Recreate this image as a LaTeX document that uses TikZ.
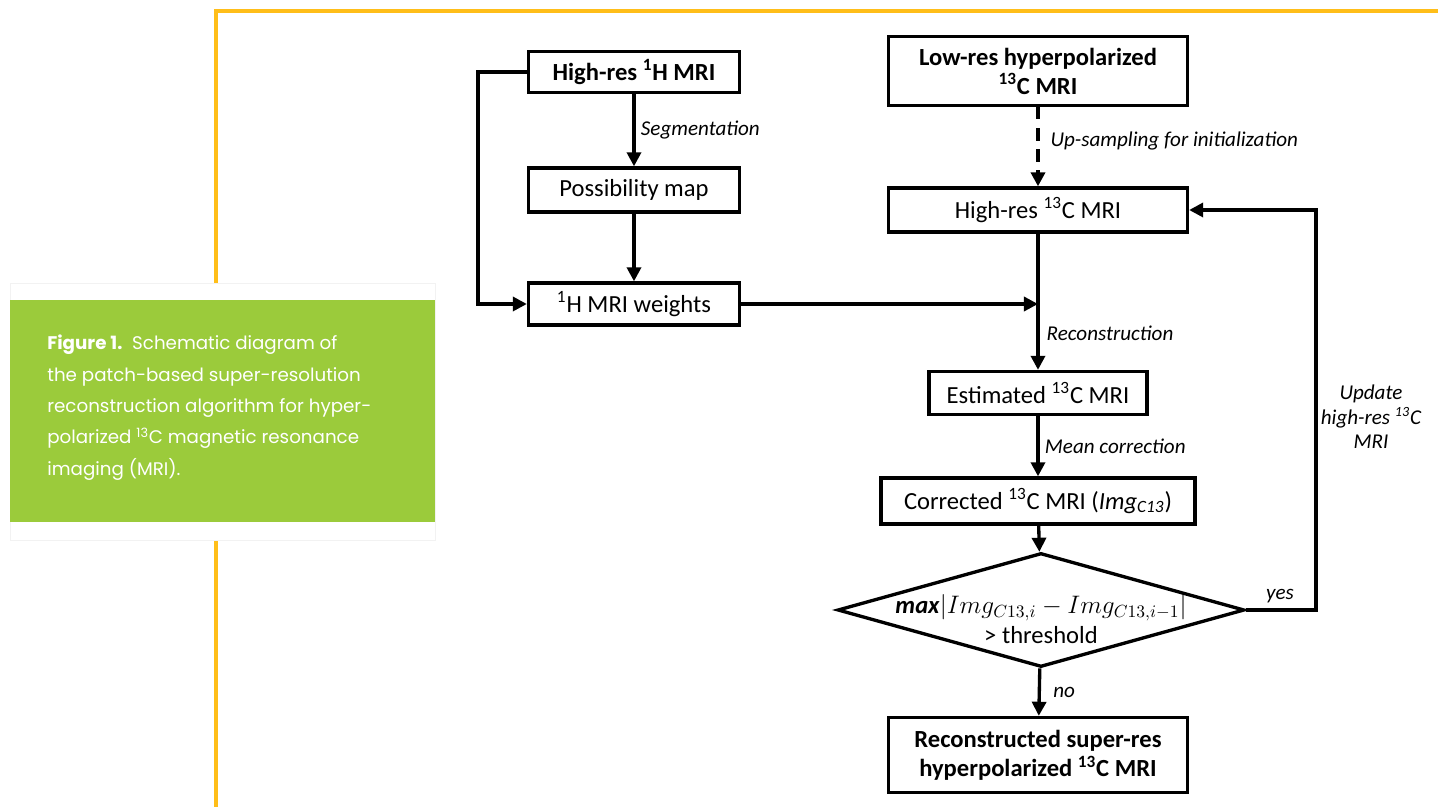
\documentclass[tikz,border=0pt]{standalone}
\usepackage{fontspec}
\setmainfont{Carlito}
\newfontfamily\capfont{Poppins}
\usetikzlibrary{shapes.geometric,arrows.meta}

\definecolor{frameorange}{RGB}{255,190,25}
\definecolor{capgreen}{RGB}{155,203,59}

\tikzset{
    box/.style={draw,line width=1.9pt,align=center,inner sep=0pt,
        font=\fontsize{14}{16.5}\selectfont},
    bbox/.style={box,font=\fontsize{14}{16.5}\selectfont\bfseries},
    lbl/.style={font=\fontsize{12}{14}\selectfont\itshape,inner sep=3pt},
    arr/.style={line width=1.9pt,-{Triangle[length=8pt,width=8pt]}}
}

\begin{document}
\begin{tikzpicture}[x=0.02cm,y=-0.02cm]
    \useasboundingbox (0,0) rectangle (1438,807);

    % frame and caption
    \draw[frameorange,line width=2.3pt] (216,807) -- (216,11) -- (1438,11);
    \fill[white] (10,283) rectangle (435,540);
    \draw[black!5] (10,283) rectangle (435,540);
    \fill[capgreen] (10,300) rectangle (435,522);
    \node[anchor=north west,inner sep=0pt,align=left,text=white,
        font=\capfont\fontsize{10.4}{17.8}\selectfont] (caption) at (47,335)
        {\textbf{Figure 1.}\ \ Schematic diagram of\\
         the patch-based super-resolution\\
         reconstruction algorithm for hyper-\\
         polarized \textsuperscript{13}C magnetic resonance\\
         imaging (MRI).};

    % boxes
    \node[bbox,minimum width=4.22cm,minimum height=0.82cm] (hH) at (634,72)
        {High-res \textsuperscript{1}H MRI};
    \node[box,minimum width=4.22cm,minimum height=0.88cm] (pmap) at (634,190)
        {Possibility map};
    \node[box,minimum width=4.22cm,minimum height=0.84cm] (hw) at (634,304)
        {\textsuperscript{1}H MRI weights};
    \node[bbox,minimum width=5.98cm,minimum height=1.38cm] (lowC) at (1038,71)
        {Low-res hyperpolarized\\\textsuperscript{13}C MRI};
    \node[box,minimum width=5.98cm,minimum height=0.88cm] (hC) at (1038,210)
        {High-res \textsuperscript{13}C MRI};
    \node[box,minimum width=4.36cm,minimum height=0.86cm] (est) at (1038,393)
        {Estimated \textsuperscript{13}C MRI};
    \node[box,minimum width=6.28cm,minimum height=0.92cm] (cor) at (1038,501)
        {Corrected \textsuperscript{13}C MRI (\textit{Img}\textsubscript{\textit{C13}})};
    \node[draw,diamond,line width=1.9pt,inner sep=0pt,
        minimum width=8.14cm,minimum height=2.28cm] (dec) at (1041,610) {};
    \node[align=center,inner sep=0pt,font=\fontsize{14}{17}\selectfont] (dectext) at (1041,619)
        {\textbf{\textit{max}}$|Img_{C13,i}-Img_{C13,i-1}|$\\> threshold};
    \node[bbox,minimum width=5.98cm,minimum height=1.5cm] (out) at (1038,755)
        {Reconstructed super-res\\hyperpolarized \textsuperscript{13}C MRI};

    % bends
    \coordinate (lb) at (478,72);
    \coordinate (rb) at (1316,610);

    % connectors
    \draw[arr] (hH) -- (pmap) node[midway,right,lbl] {Segmentation};
    \draw[arr] (pmap) -- (hw);
    \draw[arr] (hH.west) -- (lb) |- (hw.west);
    \draw[arr] (hw.east) -- (hw.east -| hC.south);
    \draw[arr,line width=2.3pt,dash pattern=on 7pt off 5pt] (lowC) -- (hC)
        node[midway,right,lbl,xshift=3pt,yshift=3pt] {Up-sampling for initialization};
    \draw[arr] (hC) -- (est) node[pos=0.73,right,lbl,xshift=1pt] {Reconstruction};
    \draw[arr] (est) -- (cor) node[midway,right,lbl] {Mean correction};
    \draw[arr] (cor) -- (dec);
    \draw[arr] (dec) -- (out) node[midway,right,lbl,xshift=4pt] {no};
    \draw[arr] (dec.east) -- (rb) |- (hC.east);

    % labels
    \node[lbl] (yes) at (1280,596) {yes};
    \node[lbl,align=center] (upd) at (1371,417)
        {Update\\high-res \textsuperscript{13}C\\MRI};

\end{tikzpicture}
\end{document}
